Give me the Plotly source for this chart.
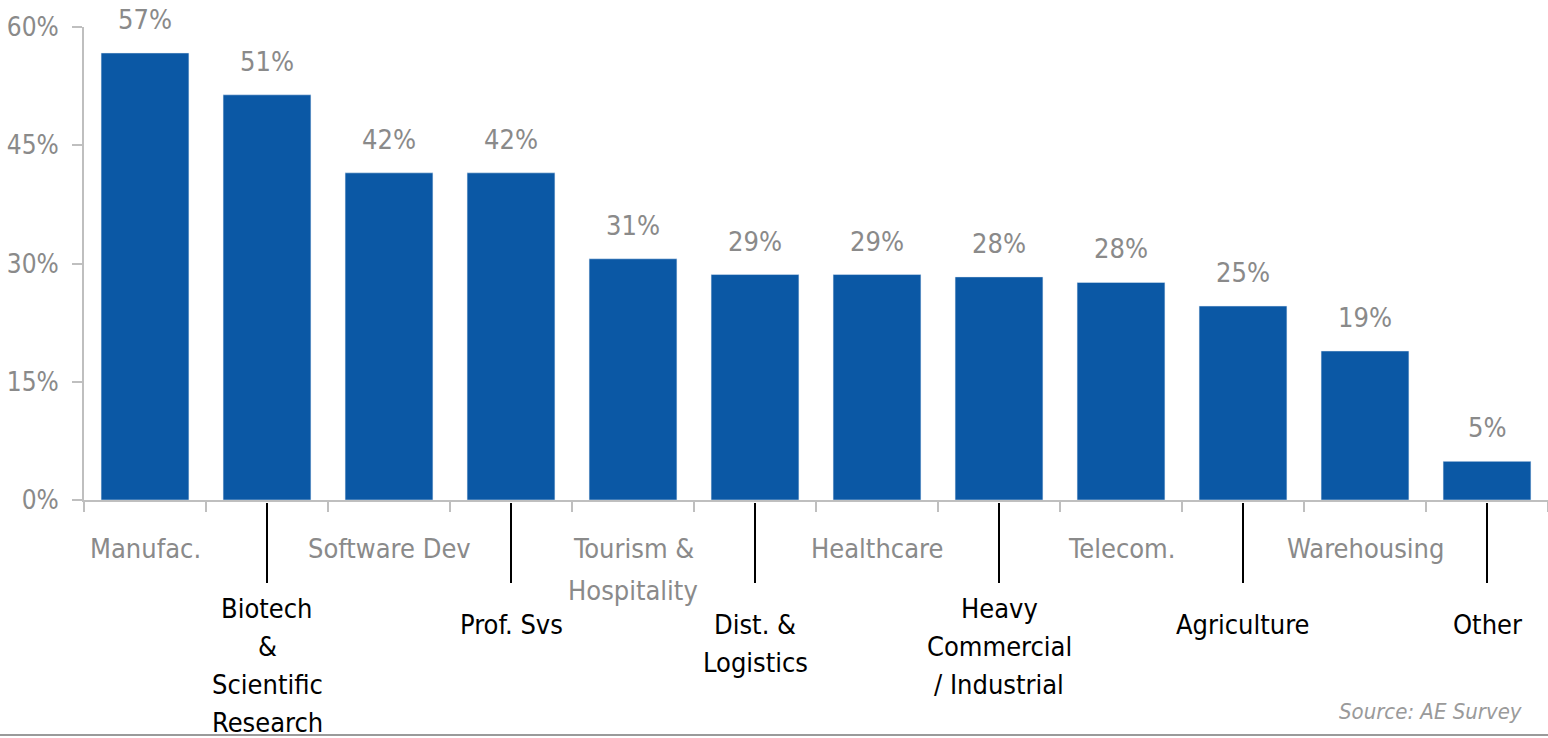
import plotly.graph_objects as go

# Sectors and share of respondents (%)
sectors = ["Manufac.", "Biotech<br>&<br>Scientific<br>Research", "Software Dev", "Prof. Svs",
           "Tourism &<br>Hospitality", "Dist. &<br>Logistics", "Healthcare",
           "Heavy<br>Commercial<br>/ Industrial", "Telecom.", "Agriculture", "Warehousing", "Other"]
shares = [56.7, 51.4, 41.5, 41.5, 30.6, 28.6, 28.6, 28.3, 27.6, 24.6, 18.9, 4.9]
labels = ["57%", "51%", "42%", "42%", "31%", "29%", "29%", "28%", "28%", "25%", "19%", "5%"]
y_ticks = [0, 15, 30, 45, 60]
y_ticktext = ["0%", "15%", "30%", "45%", "60%"]

FONT = "Liberation Sans Narrow, Arial Narrow, DejaVu Sans Condensed, sans-serif"
GRAY = "#8a8a8a"
BLUE = "#0B58A5"

W, H = 1548, 738
TOP, BOTTOM = 27, 500          # pixel rows of the plot area
PLOT_H = BOTTOM - TOP


def py(pix):
    # pixel row -> paper y
    return (BOTTOM - pix) / PLOT_H


fig = go.Figure(go.Bar(x=sectors, y=shares, marker_color=BLUE, width=0.72, hoverinfo="skip"))

# value labels above bars
for i, (v, t) in enumerate(zip(shares, labels)):
    fig.add_annotation(x=i, y=v, text=t, showarrow=False, yanchor="bottom", yshift=16,
                       font=dict(family=FONT, size=27, color=GRAY))

# category labels: even ones gray at the top row, odd ones black, lower with leader lines
# (one annotation per text line so the line spacing can follow the original)
for i, name in enumerate(sectors):
    lines = name.split("<br>")
    if i % 2 == 0:
        first, step, color = 548, 42, GRAY
    else:
        first = 608 if len(lines) >= 3 else 624
        step, color = 38, "black"
        fig.add_shape(type="line", x0=i, x1=i, xref="x", y0=py(503), y1=py(583), yref="paper",
                      line=dict(color="black", width=2))
    for j, ln in enumerate(lines):
        fig.add_annotation(x=i, y=py(first + j * step), yref="paper", text=ln, showarrow=False,
                           yanchor="middle", font=dict(family=FONT, size=27, color=color))

# bottom rule and source
fig.add_shape(type="line", xref="paper", yref="paper", x0=-84 / (W - 84), x1=1, y0=py(735), y1=py(735),
              line=dict(color="#9a9a9a", width=2))
fig.add_annotation(x=1, xref="paper", xanchor="right", xshift=-24, y=py(711), yref="paper",
                   text="<i>Source: AE Survey</i>", showarrow=False, yanchor="middle",
                   font=dict(family=FONT, size=22, color="#9a9a9a"))

fig.update_xaxes(type="category", showticklabels=False, ticks="outside", tickson="boundaries",
                 ticklen=10, tickcolor="#bfbfbf", tickwidth=2, showline=True, linecolor="#bfbfbf",
                 linewidth=2, showgrid=False, zeroline=False, fixedrange=True)
fig.update_yaxes(range=[0, 60], tickmode="array", tickvals=y_ticks, ticktext=y_ticktext,
                 ticks="outside", ticklen=10, tickcolor="#bfbfbf", tickwidth=2, showline=True,
                 linecolor="#bfbfbf", linewidth=2, showgrid=False, zeroline=False,
                 ticklabelstandoff=8, tickfont=dict(family=FONT, size=26, color=GRAY),
                 fixedrange=True)

fig.update_layout(
    width=W, height=H,
    margin=dict(l=84, r=0, t=TOP, b=H - BOTTOM),
    plot_bgcolor="white", paper_bgcolor="white",
    showlegend=False,
)

# page body has an 8px margin by default; drop it so the chart sits at the window corner
fig.write_html("out.html", config={"displayModeBar": False},
               post_script="document.body.style.margin='0';")
